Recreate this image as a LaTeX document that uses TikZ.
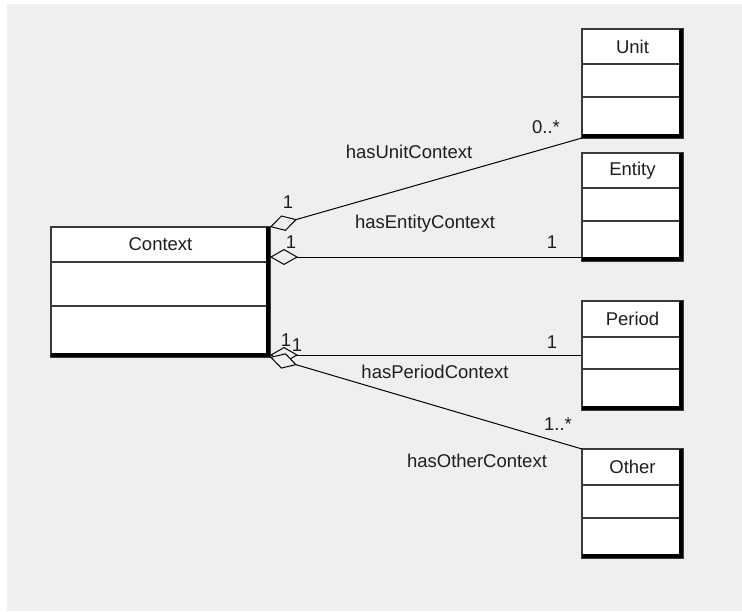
\documentclass[tikz,border=0pt]{standalone}
\usepackage{fontspec}
\setmainfont{Liberation Sans}
\usetikzlibrary{arrows.meta,calc}
\definecolor{canvas}{HTML}{EFEFEF}
\definecolor{edge}{HTML}{3A3A3A}
\definecolor{ink}{HTML}{1E1E1E}
\tikzset{
  classbox/.style={draw=edge, line width=1.3pt, fill=white, rectangle,
    inner sep=0pt, outer sep=0pt, anchor=north west},
  compart/.style={draw=edge, line width=1.3pt},
  shade/.style={draw=black, line width=4pt},
  classname/.style={font=\fontsize{18.5}{20}\selectfont, text=ink, inner sep=0pt},
  lbl/.style={font=\fontsize{18.5}{20}\selectfont, text=ink, inner sep=0pt, anchor=base},
  agg/.style={draw=black, line width=1pt,
    {Diamond[length=28pt,width=16pt,fill=canvas]}-},
}
% one class: name, left, top, right, bottom, first divider, second divider, title
\newcommand\umlclass[8]{%
  \node[classbox, minimum width={(#4-#2)*1pt}, minimum height={(#5-#3)*1pt}]
    (#1) at (#2,#3) {};
  \draw[compart] (#2,#6) -- (#4,#6);
  \draw[compart] (#2,#7) -- (#4,#7);
  \draw[shade] ($(#1.north east)+(-2,0)$) -- ($(#1.south east)+(-2,-2)$)
    -- ($(#1.south west)+(0,-2)$);
  \node[classname] (#1-title) at ({(#2+#4)/2},{(#3+#6)/2}) {#8};
}
\begin{document}
\begin{tikzpicture}[x=1pt,y=-1pt]
  \useasboundingbox (0,0) rectangle (742,611);
  \fill[canvas] (7,4) rectangle (742,611);

  \umlclass{context}{51}{227}{270}{357}{262}{306}{Context}
  \umlclass{unit}{582}{29}{683}{138}{64}{97}{Unit}
  \umlclass{entity}{582}{153}{683}{261}{188}{221}{Entity}
  \umlclass{period}{582}{301}{683}{410}{337}{369}{Period}
  \umlclass{other}{582}{449}{683}{558}{485}{518}{Other}

  % attachment points on the class sides
  \coordinate (entitylink) at ($(entity.south west)+(0,-4)$);
  \coordinate (periodlink) at ($(period.north west)+(0,54)$);

  % aggregations
  \draw[agg] (context.north east) -- (unit.south west);
  \draw[agg] (context.east |- entitylink) -- (entitylink);
  \draw[agg] (context.east |- periodlink) -- (periodlink);
  \draw[agg] (context.south east) -- (other.north west);

  % association names
  \node[lbl] (n-unit)   at (409,158) {hasUnitContext};
  \node[lbl] (n-entity) at (425,228) {hasEntityContext};
  \node[lbl] (n-period) at (435,378) {hasPeriodContext};
  \node[lbl] (n-other)  at (477,467) {hasOtherContext};

  % multiplicities
  \node[lbl] (m-unit-a)   at (288,208) {1};
  \node[lbl] (m-unit-b)   at (546,133) {0..*};
  \node[lbl] (m-entity-a) at (291,248) {1};
  \node[lbl] (m-entity-b) at (552,248) {1};
  \node[lbl] (m-period-a) at (286,346) {1};
  \node[lbl] (m-other-a)  at (297,351) {1};
  \node[lbl] (m-period-b) at (552,348) {1};
  \node[lbl] (m-other-b)  at (558,430) {1..*};
\end{tikzpicture}
\end{document}
